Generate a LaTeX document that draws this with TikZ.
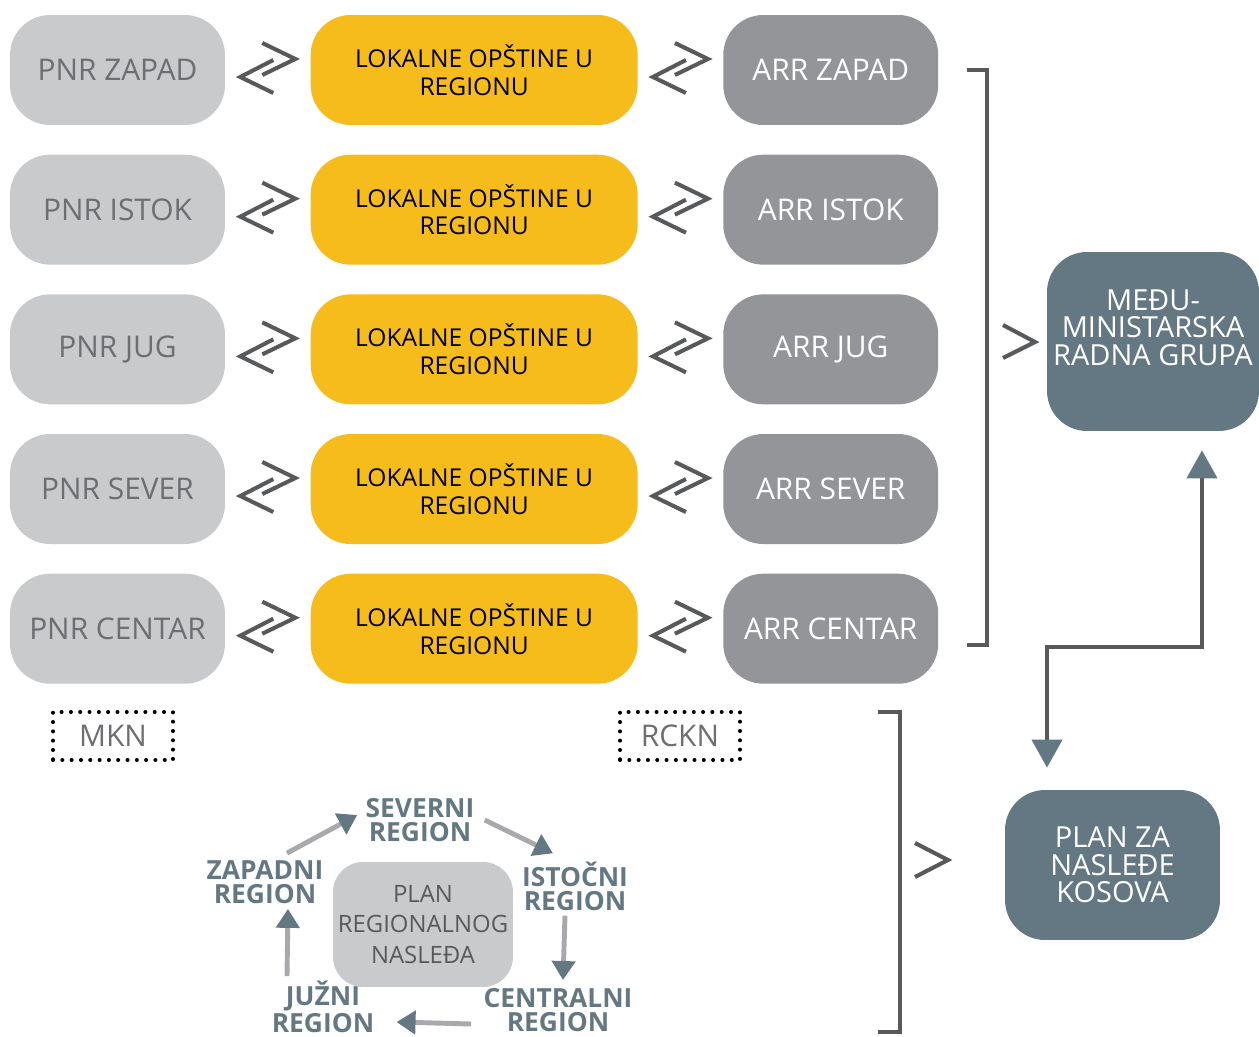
\documentclass[tikz,border=0pt]{standalone}
\usepackage{fontspec}
\setmainfont{Open Sans}
\usetikzlibrary{arrows.meta,positioning,calc}
\definecolor{pnrgray}{HTML}{C9CACC}
\definecolor{lokyellow}{HTML}{F5BC1C}
\definecolor{arrgray}{HTML}{939598}
\definecolor{slate}{HTML}{647883}
\definecolor{darkline}{HTML}{58595B}
\definecolor{txtgray}{HTML}{6D6E71}
\definecolor{cshaft}{HTML}{A7A9AC}

\begin{document}
\begin{tikzpicture}[
  x=0.02cm, y=-0.02cm,
  box/.style={rounded corners=0.8cm, minimum width=4.3cm, minimum height=2.2cm, inner sep=0pt, align=center},
  pnr/.style={box, fill=pnrgray, text=txtgray, font=\fontsize{17}{20}\selectfont},
  lok/.style={box, fill=lokyellow, text=black, minimum width=6.54cm, font=\fontsize{14}{15.9}\selectfont},
  arr/.style={box, fill=arrgray, text=white, font=\fontsize{17}{20}\selectfont},
  grp/.style={box, fill=slate, text=white, font=\fontsize{16.5}{15.6}\selectfont},
  tag/.style={draw=black, line width=2.3pt, dash pattern=on 0pt off 5.3pt, line cap=round, minimum width=2.4cm, minimum height=0.96cm, text=txtgray, font=\fontsize{17}{20}\selectfont},
  region/.style={text=slate, font=\fontsize{15}{13.6}\selectfont\bfseries, align=center, inner sep=0pt},
  sym/.style={draw=darkline, line width=2.3pt},
  link/.style={darkline, line width=2.3pt, {Triangle[color=slate, width=0.6cm, length=0.56cm]}-{Triangle[color=slate, width=0.6cm, length=0.56cm]}},
  cyc/.style={cshaft, line width=2.8pt, -{Triangle[color=slate, width=0.46cm, length=0.38cm]}},
  swap/.pic={
    \draw[sym] (-5.5,-27) -- (27.5,-11) -- (-5.5,5);
    \draw[sym] (5.5,-10) -- (-27.5,7) -- (5.5,23);
  }
]
\useasboundingbox (0,0) rectangle (1259,1037);
% regionalni partneri (levo)
\node[pnr] (pnrzap) at (117.5,70) {PNR ZAPAD};
\node[pnr, below=0.58cm of pnrzap] (pnrist) {PNR ISTOK};
\node[pnr, below=0.58cm of pnrist] (pnrjug) {PNR JUG};
\node[pnr, below=0.58cm of pnrjug] (pnrsev) {PNR SEVER};
\node[pnr, below=0.58cm of pnrsev] (pnrcen) {PNR CENTAR};
% opštine (sredina)
\node[lok, right=1.7cm of pnrzap] (lokzap) {LOKALNE OPŠTINE U\\REGIONU};
\node[lok, right=1.7cm of pnrist] (lokist) {LOKALNE OPŠTINE U\\REGIONU};
\node[lok, right=1.7cm of pnrjug] (lokjug) {LOKALNE OPŠTINE U\\REGIONU};
\node[lok, right=1.7cm of pnrsev] (loksev) {LOKALNE OPŠTINE U\\REGIONU};
\node[lok, right=1.7cm of pnrcen] (lokcen) {LOKALNE OPŠTINE U\\REGIONU};
% agencije (desno)
\node[arr, right=1.7cm of lokzap] (arrzap) {ARR ZAPAD};
\node[arr, right=1.7cm of lokist] (arrist) {ARR ISTOK};
\node[arr, right=1.7cm of lokjug] (arrjug) {ARR JUG};
\node[arr, right=1.7cm of loksev] (arrsev) {ARR SEVER};
\node[arr, right=1.7cm of lokcen] (arrcen) {ARR CENTAR};
% dvosmerni znaci
\pic at ($(pnrzap.east)!.5!(lokzap.west)$) {swap};
\pic at ($(pnrist.east)!.5!(lokist.west)$) {swap};
\pic at ($(pnrjug.east)!.5!(lokjug.west)$) {swap};
\pic at ($(pnrsev.east)!.5!(loksev.west)$) {swap};
\pic at ($(pnrcen.east)!.5!(lokcen.west)$) {swap};
\pic at ($(lokzap.east)!.5!(arrzap.west)$) {swap};
\pic at ($(lokist.east)!.5!(arrist.west)$) {swap};
\pic at ($(lokjug.east)!.5!(arrjug.west)$) {swap};
\pic at ($(loksev.east)!.5!(arrsev.west)$) {swap};
\pic at ($(lokcen.east)!.5!(arrcen.west)$) {swap};
% oznake ispod kolona
\node[tag] (mkn) at (113,736) {MKN};
\node[tag] (rckn) at (680,736) {RCKN};
% grupe desno
\node[grp, minimum width=4.24cm, minimum height=3.58cm, text depth=16pt] (medju) at (1153,341.5) {MEĐU-\\MINISTARSKA\\RADNA GRUPA};
\node[grp, minimum height=3cm] (plan) at (1112.5,865) {PLAN ZA\\NASLEĐE\\KOSOVA};
\coordinate (bend) at (1125,647);
\draw[link] ([shift={(49,19)}]medju.south) |- (bend) -| ([shift={(-65.5,-22)}]plan.north);
% zagrade i znaci
\draw[sym] (967,70) -| (987,645) -- (967,645);
\draw[sym] (1003,325) -- (1035,342) -- (1003,358);
\draw[sym] (878,712) -| (900,1032) -- (878,1032);
\draw[sym] (915,843) -- (948,860) -- (915,877);
% ciklus regiona
\node[box, fill=pnrgray, text=darkline, minimum width=3.6cm, minimum height=2.5cm, rounded corners=0.6cm, font=\fontsize{13.6}{17.6}\selectfont] (prn) at (423,924.5) {PLAN\\REGIONALNOG\\NASLEĐA};
\node[region] (sev) at (420,820) {SEVERNI\\REGION};
\node[region] (zap) at (265,882) {ZAPADNI\\REGION};
\node[region] (ist) at (575,886) {ISTOČNI\\REGION};
\node[region] (cen) at (558,1010) {CENTRALNI\\REGION};
\node[region] (juz) at (323,1007) {JUŽNI\\REGION};
\draw[cyc] ([shift={(22,-7)}]zap.north) -- ([shift={(-8,-5)}]sev.west);
\draw[cyc] ([shift={(10,0)}]sev.east) -- ([shift={(-22,-8)}]ist.north);
\draw[cyc] ([shift={(-10,5)}]ist.south) -- ([shift={(5,-8)}]cen.north);
\draw[cyc] ([shift={(-12,14)}]cen.west) -- ([shift={(22,15)}]juz.east);
\draw[cyc] ([shift={(-36,-5)}]juz.north) -- ([shift={(23,5)}]zap.south);
\end{tikzpicture}
\end{document}
